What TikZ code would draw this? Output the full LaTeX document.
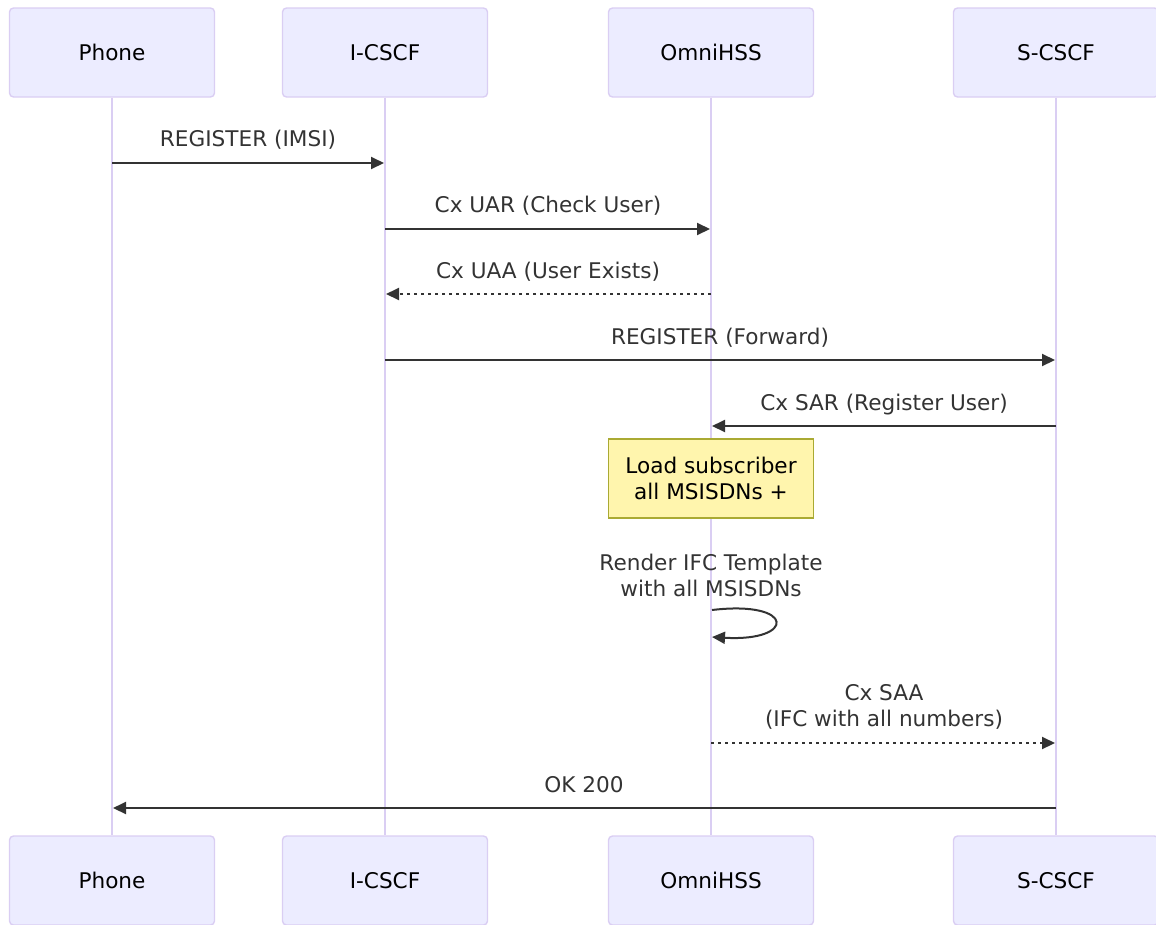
\documentclass[tikz,border=0pt]{standalone}
\usepackage{fontspec}
\setmainfont{DejaVu Sans}
\usetikzlibrary{arrows.meta}
\definecolor{actfill}{HTML}{ECECFF}
\definecolor{actline}{HTML}{DACEF3}
\definecolor{txtgray}{HTML}{333333}
\definecolor{notefill}{HTML}{FFF5AD}
\definecolor{noteline}{HTML}{AAAA33}
\newcommand{\seqfont}{\fontsize{21.6}{26}\selectfont}

\begin{document}
\begin{tikzpicture}[x=1pt,y=-1pt,
  actor/.style={draw=actline, line width=1.4pt, fill=actfill, rounded corners=4pt,
    minimum width=205pt, minimum height=89pt, font=\seqfont, text=black},
  life/.style={actline, line width=1.6pt},
  msg/.style={txtgray, line width=2pt, -{Triangle[length=13pt,width=12pt]}},
  reply/.style={msg, dash pattern=on 3pt off 4pt},
  lbl/.style={font=\seqfont, text=txtgray, align=center},
  notebox/.style={draw=noteline, line width=1.4pt, fill=notefill,
    minimum width=205pt, minimum height=79pt, font=\seqfont, text=black, align=center}]
  \useasboundingbox (0,0) rectangle (1156,924);

  % actors top
  \node[actor] (phoneT) at (112,52.5) {Phone};
  \node[actor] (icscfT) at (385,52.5) {I-CSCF};
  \node[actor] (hssT) at (711,52.5) {OmniHSS};
  \node[actor] (scscfT) at (1056,52.5) {S-CSCF};

  % actors bottom
  \node[actor] (phoneB) at (112,880.5) {Phone};
  \node[actor] (icscfB) at (385,880.5) {I-CSCF};
  \node[actor] (hssB) at (711,880.5) {OmniHSS};
  \node[actor] (scscfB) at (1056,880.5) {S-CSCF};

  % lifelines
  \draw[life] (phoneT) -- (phoneB);
  \draw[life] (icscfT) -- (icscfB);
  \draw[life] (hssT) -- (hssB);
  \draw[life] (scscfT) -- (scscfB);

  % REGISTER (IMSI)
  \coordinate (m1a) at (112,163);
  \coordinate (m1b) at (384,163);
  \draw[msg] (m1a) -- (m1b);
  \node[lbl, anchor=base] (l1) at (248,146) {REGISTER (IMSI)};

  % UAR
  \coordinate (m2a) at (385,229);
  \coordinate (m2b) at (710,229);
  \draw[msg] (m2a) -- (m2b);
  \node[lbl, anchor=base] (l2) at (548,212) {Cx UAR (Check User)};

  % UAA
  \coordinate (m3a) at (711,294);
  \coordinate (m3b) at (386,294);
  \draw[reply] (m3a) -- (m3b);
  \node[lbl, anchor=base] (l3) at (548,278) {Cx UAA (User Exists)};

  % REGISTER (Forward)
  \coordinate (m4a) at (385,360);
  \coordinate (m4b) at (1055,360);
  \draw[msg] (m4a) -- (m4b);
  \node[lbl, anchor=base] (l4) at (720,344) {REGISTER (Forward)};

  % SAR
  \coordinate (m5a) at (1056,426);
  \coordinate (m5b) at (712,426);
  \draw[msg] (m5a) -- (m5b);
  \node[lbl, anchor=base] (l5) at (884,410) {Cx SAR (Register User)};

  % note
  \node[notebox] (load) at (711,478.5) {Load subscriber\\all MSISDNs +};

  % self call
  \node[lbl] (l6) at (711,575) {Render IFC Template\\with all MSISDNs};
  \coordinate (m6a) at (712,610);
  \coordinate (m6b) at (712,637);
  \draw[msg] (m6a) .. controls (796,600) and (796,642) .. (m6b);

  % SAA
  \coordinate (m7a) at (711,743);
  \coordinate (m7b) at (1055,743);
  \draw[reply] (m7a) -- (m7b);
  \node[lbl] (l7) at (884,707) {Cx SAA\\(IFC with all numbers)};

  % OK
  \coordinate (m8a) at (1056,808);
  \coordinate (m8b) at (113,808);
  \draw[msg] (m8a) -- (m8b);
  \node[lbl, anchor=base] (l8) at (584,792) {OK 200};
\end{tikzpicture}
\end{document}
